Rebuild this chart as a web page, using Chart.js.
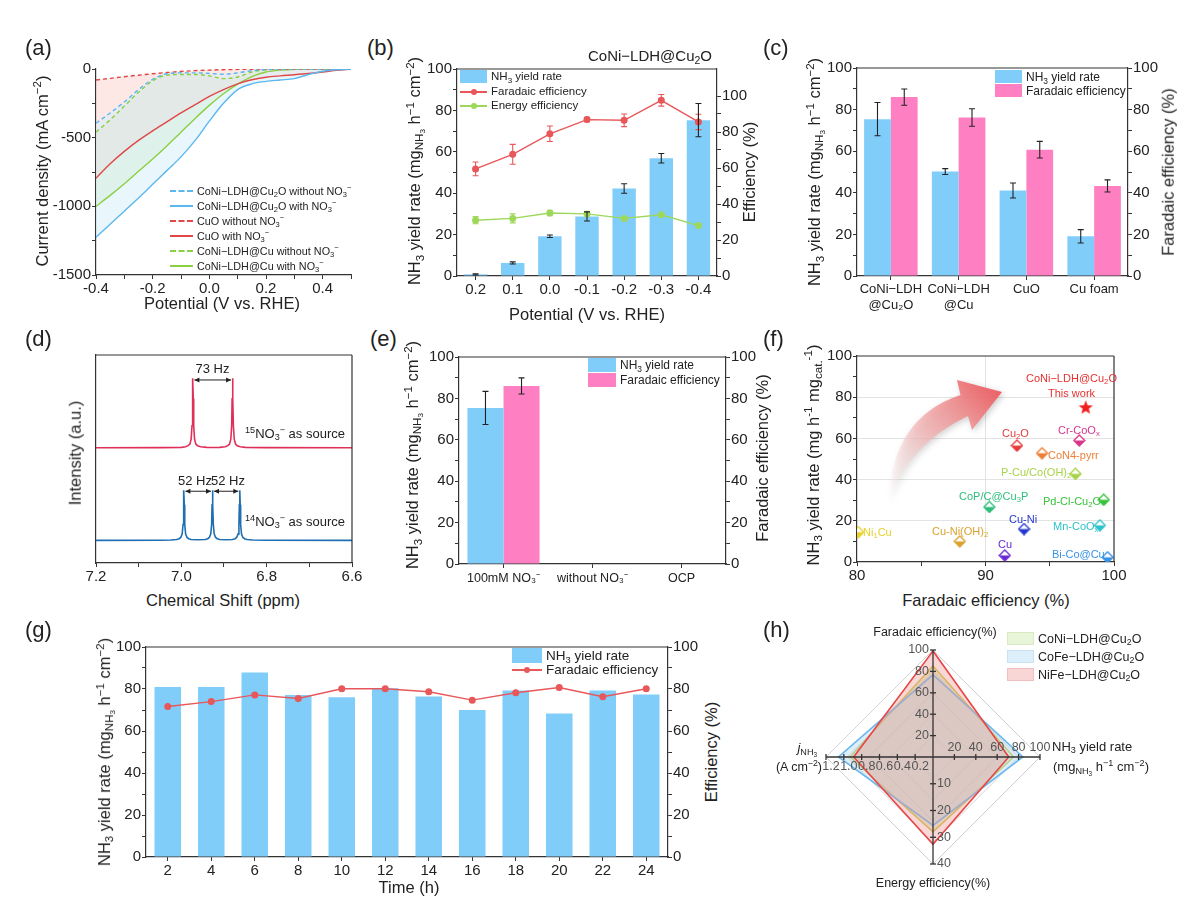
<!DOCTYPE html>
<html lang="en">
<head>
<meta charset="UTF-8">
<title>CoNi-LDH@Cu2O nitrate reduction</title>
<style>
  body { margin: 0; background: #fff; }
  #fig { position: relative; width: 1192px; height: 902px; overflow: hidden; font-family: "Liberation Sans", Arial, sans-serif; color: #222; }
  .box { position: absolute; }
  .t { position: absolute; white-space: nowrap; line-height: 1; z-index: 2; }
  .cc { transform: translate(-50%, -50%); }
  .lc { transform: translateY(-50%); }
  .rc { transform: translate(-100%, -50%); }
  .rot { transform: translate(-50%, -50%) rotate(-90deg); }
  .t sub { font-size: 0.7em; vertical-align: -0.3em; line-height: 0; }
  .t sup { font-size: 0.7em; vertical-align: 0.55em; line-height: 0; }
</style>
<script src="https://cdn.jsdelivr.net/npm/chart.js"></script>
</head>
<body>
<div id="fig"></div>
<script>
// (a) LSV, current density (mA cm-2) vs potential (V vs RHE)
const lsvPotential = [-0.4, -0.35, -0.3, -0.25, -0.2, -0.15, -0.1, -0.05, 0, 0.05, 0.1, 0.15, 0.2, 0.25, 0.3, 0.35, 0.4, 0.45, 0.5];
const lsvCu2OWithout = [-395, -320, -240, -150, -75, -35, -28, -28, -32, -38, -28, -12, -4, -1, 0, 0, 0, 0, 0];
const lsvCu2OWith = [-1225, -1130, -1035, -940, -840, -740, -640, -520, -380, -250, -150, -108, -90, -80, -70, -40, -16, -5, 0];
const lsvCuOWithout = [-80, -68, -56, -45, -35, -26, -18, -12, -8, -5, -3, -2, -1, -1, 0, 0, 0, 0, 0];
const lsvCuOWith = [-795, -690, -600, -520, -450, -385, -320, -260, -200, -150, -108, -78, -60, -50, -42, -33, -22, -10, 0];
const lsvCuWithout = [-460, -370, -270, -170, -85, -45, -40, -40, -50, -70, -58, -22, -6, -2, 0, 0, 0, 0, 0];
const lsvCuWith = [-1000, -920, -835, -745, -655, -560, -460, -360, -265, -180, -110, -55, -22, -8, -3, -1, 0, 0, 0];

// (b) potential series of CoNi-LDH@Cu2O
const bPotential = ['0.2', '0.1', '0.0', '-0.1', '-0.2', '-0.3', '-0.4'];
const bYield = [0.8, 6.3, 19.2, 28.8, 42.3, 56.9, 75.3];
const bYieldErr = [0.3, 0.5, 0.6, 2.2, 2.3, 2.3, 8.0];
const bFE = [59.5, 67.6, 79, 86.9, 86.5, 97.6, 85.6];
const bFEErr = [3.8, 5.5, 4.3, 1.2, 3.5, 3.2, 4.3];
const bEE = [31, 32, 35, 34.5, 32, 34, 28];
const bEEErr = [2, 2.5, 1.5, 0.8, 0, 0, 0];

// (c) catalyst comparison
const cCatalysts = [['CoNi−LDH', '@Cu₂O'], ['CoNi−LDH', '@Cu'], 'CuO', 'Cu foam'];
const cYield = [75.4, 50.2, 41.1, 19.1];
const cYieldErr = [8.0, 1.4, 3.6, 3.2];
const cFE = [86, 76.2, 60.7, 43.3];
const cFEErr = [3.9, 4.2, 4.0, 2.9];

// (d) 1H NMR spectra
const dRedPpm = [7.2, 7.05, 7.0, 6.99, 6.984, 6.98, 6.977, 6.975, 6.974, 6.973, 6.972, 6.971, 6.969, 6.966, 6.962, 6.955, 6.94, 6.926, 6.91, 6.897, 6.891, 6.887, 6.884, 6.882, 6.881, 6.88, 6.879, 6.878, 6.876, 6.873, 6.869, 6.862, 6.85, 6.8, 6.6];
const dRedInt = [5.54, 5.545, 5.56, 5.59, 5.64, 5.72, 5.95, 6.6, 7.9, 8.88, 7.9, 6.6, 5.95, 5.72, 5.64, 5.59, 5.56, 5.555, 5.56, 5.59, 5.64, 5.72, 5.95, 6.6, 7.9, 8.88, 7.9, 6.6, 5.95, 5.72, 5.64, 5.59, 5.56, 5.545, 5.54];
const dBluePpm = [7.2, 7.05, 7.024, 7.011, 7.005, 7.001, 6.998, 6.996, 6.995, 6.994, 6.993, 6.992, 6.99, 6.987, 6.983, 6.977, 6.962, 6.944, 6.938, 6.934, 6.931, 6.929, 6.928, 6.927, 6.926, 6.925, 6.923, 6.92, 6.916, 6.91, 6.895, 6.88, 6.874, 6.87, 6.867, 6.865, 6.864, 6.863, 6.862, 6.861, 6.859, 6.856, 6.852, 6.846, 6.833, 6.8, 6.6];
const dBlueInt = [1.09, 1.095, 1.105, 1.13, 1.17, 1.24, 1.4, 1.85, 2.8, 3.5, 2.8, 1.85, 1.4, 1.24, 1.17, 1.13, 1.115, 1.13, 1.17, 1.24, 1.4, 1.85, 2.8, 3.5, 2.8, 1.85, 1.4, 1.24, 1.17, 1.13, 1.115, 1.13, 1.17, 1.24, 1.4, 1.85, 2.8, 3.5, 2.8, 1.85, 1.4, 1.24, 1.17, 1.13, 1.105, 1.095, 1.09];

// (e) control experiments
const eConditions = ['100mM NO₃⁻', 'without NO₃⁻', 'OCP'];
const eYield = [75.4, 0, 0];
const eYieldErr = [8.0, 0, 0];
const eFE = [86, 0, 0];
const eFEErr = [3.9, 0, 0];

// (f) literature comparison
const fNames = ['Cr-CoO<sub>x</sub>', 'Cu<sub>2</sub>O', 'CoN4-pyrr', 'P-Cu/Co(OH)<sub>2</sub>', 'Pd-Cl-Cu<sub>2</sub>O', 'CoP/C@Cu<sub>3</sub>P', 'Mn-CoO<sub>x</sub>', 'Cu-Ni', 'Ni<sub>1</sub>Cu', 'Cu-Ni(OH)<sub>2</sub>', 'Cu', 'Bi-Co@Cu'];
const fFE = [97.3, 92.45, 94.4, 97.0, 99.2, 90.3, 98.9, 93.0, 80.1, 88.0, 91.5, 99.5];
const fYield = [59, 56.5, 52.8, 42.8, 30.2, 26.7, 17.8, 16, 14.5, 10, 3.2, 2.3];
const fColors = ['#D9358C', '#E53B3B', '#EC7F35', '#A9D34A', '#37C23A', '#2EBE7A', '#2CC3C9', '#2638D0', '#E6D22A', '#D9A32E', '#6A2BD3', '#3892E6'];
const fThisFE = [97.8];
const fThisYield = [75.1];

// (g) 24 h stability
const gTime = ['2', '4', '6', '8', '10', '12', '14', '16', '18', '20', '22', '24'];
const gYield = [81, 81, 87.9, 77.2, 76.1, 80.4, 76.4, 70, 79.3, 68.3, 79.3, 77.4];
const gFE = [71.7, 74, 77.2, 75.5, 80.1, 80.1, 78.7, 74.7, 78.2, 80.7, 76.3, 80.1];

// (h) radar: FE (%), NH3 yield, EE (%), j (A cm-2)
const hAxisMax = [100, 100, 40, 1.2];
const hAxisTicks = [[20, 40, 60, 80, 100], [20, 40, 60, 80, 100], [10, 20, 30, 40], [0.2, 0.4, 0.6, 0.8, 1.0, 1.2]];
const hCoNi = [85, 75.4, 28, 0.93];
const hCoFe = [77, 84, 25.6, 1.06];
const hNiFe = [99, 70.8, 32.6, 0.89];

const FONT = '"Liberation Sans", Arial, sans-serif';
const AX = '#333';
const BLUE = '#80CDFA', PINK = '#FF80C2', RED = '#E8575A', GREEN = '#9ED85A';
Chart.defaults.font.family = FONT;
Chart.defaults.color = '#222';
Chart.defaults.animation = false;
Chart.defaults.plugins.legend.display = false;
Chart.defaults.plugins.tooltip.enabled = false;

const fig = document.getElementById('fig');

function panel(l, t, r, b, m) {
    const div = document.createElement('div');
    div.className = 'box';
    div.style.left = (l - m.L) + 'px';
    div.style.top = (t - m.T) + 'px';
    div.style.width = (r - l + m.L + m.R) + 'px';
    div.style.height = (b - t + m.T + m.B) + 'px';
    const cv = document.createElement('canvas');
    div.appendChild(cv);
    fig.appendChild(div);
    return cv;
}

function txt(x, y, html, size, cls, extra) {
    const d = document.createElement('div');
    d.className = 't ' + (cls || 'cc');
    d.style.left = x + 'px';
    d.style.top = y + 'px';
    d.style.fontSize = size + 'px';
    if (extra) d.style.cssText += extra;
    d.innerHTML = html;
    fig.appendChild(d);
}

function legendLine(x, y, w, color, dashed, dot, html, size) {
    const s = document.createElement('div');
    s.className = 't';
    s.style.cssText += `left:${x}px;top:${y - 1}px;width:${w}px;height:0;border-top:2px ${dashed ? 'dashed' : 'solid'} ${color};`;
    fig.appendChild(s);
    if (dot) {
        const c = document.createElement('div');
        c.className = 't';
        c.style.cssText += `left:${x + w / 2 - 3}px;top:${y - 3}px;width:6px;height:6px;border-radius:50%;background:${color};`;
        fig.appendChild(c);
    }
    txt(x + w + 4, y, html, size, 'lc');
}

function legendBox(x, y, w, h, color, html, size, border) {
    const s = document.createElement('div');
    s.className = 't';
    s.style.cssText += `left:${x}px;top:${y}px;width:${w}px;height:${h}px;background:${color};` + (border ? `box-sizing:border-box;border:1px solid ${border};` : '');
    fig.appendChild(s);
    txt(x + w + 4, y + h / 2, html, size, 'lc');
}

const every = (m, f = v => String(v)) => v => {
    const r = v / m;
    return Math.abs(r - Math.round(r)) < 1e-6 ? f(v) : '';
};

function axis(pos, size, o = {}) {
    const horiz = pos === 'bottom' || pos === 'top';
    return Object.assign({}, o, {
        position: pos,
        afterFit: s => { if (horiz) s.height = size; else s.width = size; },
        border: Object.assign({ color: AX, width: 1.2 }, o.border),
        grid: Object.assign({ drawOnChartArea: false, color: AX, tickColor: AX, tickLength: 4, lineWidth: 1 }, o.grid),
        ticks: Object.assign({ color: '#222', font: { size: 15 }, padding: 1, maxRotation: 0, minRotation: 0, autoSkip: false }, o.ticks)
    });
}

// box lines on the sides that have no axis
const frame = {
    id: 'frame',
    afterDraw(chart, args, o) {
        const { ctx, chartArea: a } = chart;
        ctx.save();
        ctx.strokeStyle = AX;
        ctx.lineWidth = 1.2;
        ctx.beginPath();
        if (o.top) { ctx.moveTo(a.left, a.top); ctx.lineTo(a.right, a.top); }
        if (o.right) { ctx.moveTo(a.right, a.top); ctx.lineTo(a.right, a.bottom); }
        ctx.stroke();
        ctx.restore();
    }
};

// error bars from dataset.errs
const errBars = {
    id: 'errBars',
    afterDatasetsDraw(chart) {
        const ctx = chart.ctx;
        chart.data.datasets.forEach((ds, i) => {
            if (!ds.errs) return;
            const meta = chart.getDatasetMeta(i);
            const ys = chart.scales[meta.yAxisID];
            ctx.save();
            ctx.strokeStyle = ds.errColor || '#222';
            ctx.lineWidth = 1.1;
            meta.data.forEach((el, j) => {
                const e = ds.errs[j];
                if (!e) return;
                const v = ds.data[j];
                const y1 = ys.getPixelForValue(v + e), y2 = ys.getPixelForValue(v - e);
                ctx.beginPath();
                ctx.moveTo(el.x, y1); ctx.lineTo(el.x, y2);
                ctx.moveTo(el.x - 3, y1); ctx.lineTo(el.x + 3, y1);
                ctx.moveTo(el.x - 3, y2); ctx.lineTo(el.x + 3, y2);
                ctx.stroke();
            });
            ctx.restore();
        });
    }
};

const base = { responsive: true, maintainAspectRatio: false };

// ---------------- (a) ----------------
{
    const m = { L: 50, T: 12, R: 14, B: 26 };
    const cv = panel(96, 69, 351, 275, m);
    const pts = ys => lsvPotential.map((x, i) => ({ x, y: ys[i] }));
    const line = (ys, color, dashed, fill) => ({
        data: pts(ys), borderColor: color, borderWidth: 1.4, borderDash: dashed ? [4, 3] : [],
        pointRadius: 0, tension: 0.35, cubicInterpolationMode: 'monotone', fill: fill || false
    });
    new Chart(cv, {
        type: 'line',
        data: {
            datasets: [
                line(lsvCu2OWithout, '#5BB8EE', true),
                Object.assign(line(lsvCu2OWith, '#5BB8EE', false, { target: 0 }), { backgroundColor: 'rgba(215,238,250,0.55)' }),
                line(lsvCuOWithout, '#E04848', true),
                Object.assign(line(lsvCuOWith, '#E04848', false, { target: 2 }), { backgroundColor: 'rgba(250,205,200,0.45)' }),
                line(lsvCuWithout, '#8AD040', true),
                Object.assign(line(lsvCuWith, '#8AD040', false, { target: 4 }), { backgroundColor: 'rgba(190,225,150,0.35)' })
            ]
        },
        options: Object.assign({}, base, {
            layout: { padding: { top: m.T, right: m.R, left: 0, bottom: 0 } },
            plugins: { filler: { drawTime: 'beforeDatasetsDraw' } },
            scales: {
                x: axis('bottom', m.B, { type: 'linear', min: -0.4, max: 0.5, ticks: { stepSize: 0.1, callback: every(0.2, v => (Math.abs(v) < 1e-9 ? 0 : v).toFixed(1)) } }),
                y: axis('left', m.L, { min: -1500, max: 0, ticks: { stepSize: 250, callback: every(500, v => String(Math.round(v))) } })
            }
        })
    });
    txt(25, 48, '(a)', 22, 'lc');
    txt(42, 171, 'Current density (mA cm<sup>−2</sup>)', 16.5, 'rot');
    txt(222, 303, 'Potential (V vs. RHE)', 16.5);
    const rows = [
        ['#5BB8EE', true, 'CoNi−LDH@Cu<sub>2</sub>O without NO<sub>3</sub><sup>−</sup>'],
        ['#5BB8EE', false, 'CoNi−LDH@Cu<sub>2</sub>O with NO<sub>3</sub><sup>−</sup>'],
        ['#E04848', true, 'CuO without NO<sub>3</sub><sup>−</sup>'],
        ['#E04848', false, 'CuO with NO<sub>3</sub><sup>−</sup>'],
        ['#8AD040', true, 'CoNi−LDH@Cu without NO<sub>3</sub><sup>−</sup>'],
        ['#8AD040', false, 'CoNi−LDH@Cu with NO<sub>3</sub><sup>−</sup>']
    ];
    rows.forEach((r, i) => legendLine(170, 191 + i * 15, 23, r[0], r[1], false, r[2], 10.8));
}

// ---------------- (b) ----------------
{
    const m = { L: 38, T: 10, R: 32, B: 28 };
    const cv = panel(457, 69, 717, 276, m);
    new Chart(cv, {
        type: 'bar',
        data: {
            labels: bPotential,
            datasets: [
                { type: 'line', data: bFE, yAxisID: 'y1', borderColor: RED, backgroundColor: RED, borderWidth: 1.4, pointRadius: 2.8, errs: bFEErr, errColor: RED, order: 1 },
                { type: 'line', data: bEE, yAxisID: 'y1', borderColor: GREEN, backgroundColor: GREEN, borderWidth: 1.4, pointRadius: 2.8, errs: bEEErr, errColor: GREEN, order: 2 },
                { type: 'bar', data: bYield, yAxisID: 'y', backgroundColor: BLUE, barPercentage: 0.63, categoryPercentage: 1, errs: bYieldErr, order: 3 }
            ]
        },
        options: Object.assign({}, base, {
            layout: { padding: { top: m.T, right: 0, left: 0, bottom: 0 } },
            plugins: { frame: { top: true } },
            scales: {
                x: axis('bottom', m.B, { grid: { offset: false } }),
                y: axis('left', m.L, { min: 0, max: 100, ticks: { stepSize: 10, callback: every(20) } }),
                y1: axis('right', m.R, {
                    min: 0, max: 115, ticks: { stepSize: 10, callback: every(20) },
                    afterBuildTicks: s => { s.ticks = s.ticks.filter(t => t.value % 10 === 0); }
                })
            }
        }),
        plugins: [frame, errBars]
    });
    txt(367, 48, '(b)', 22, 'lc');
    txt(650, 55, 'CoNi−LDH@Cu<sub>2</sub>O', 15);
    txt(415, 171, 'NH<sub>3</sub> yield rate (mg<sub>NH<sub>3</sub></sub> h<sup>−1</sup> cm<sup>−2</sup>)', 16.5, 'rot');
    txt(749, 172, 'Efficiency (%)', 16.5, 'rot');
    txt(587, 314, 'Potential (V vs. RHE)', 16.5);
    legendBox(460, 70, 27, 13, BLUE, 'NH<sub>3</sub> yield rate', 11.5);
    legendLine(460, 91.5, 27, RED, false, true, 'Faradaic efficiency', 11.5);
    legendLine(460, 106, 27, GREEN, false, true, 'Energy efficiency', 11.5);
}

// ---------------- (c) ----------------
{
    const m = { L: 38, T: 10, R: 32, B: 45 };
    const cv = panel(857, 68, 1128, 276, m);
    new Chart(cv, {
        type: 'bar',
        data: {
            labels: cCatalysts,
            datasets: [
                { data: cYield, yAxisID: 'y', backgroundColor: BLUE, errs: cYieldErr, barPercentage: 1, categoryPercentage: 0.79 },
                { data: cFE, yAxisID: 'y1', backgroundColor: PINK, errs: cFEErr, barPercentage: 1, categoryPercentage: 0.79 }
            ]
        },
        options: Object.assign({}, base, {
            layout: { padding: { top: m.T, right: 0, left: 0, bottom: 0 } },
            plugins: { frame: { top: true } },
            scales: {
                x: axis('bottom', m.B, { grid: { offset: false }, ticks: { font: { size: 13 }, padding: 2 } }),
                y: axis('left', m.L, { min: 0, max: 100, ticks: { stepSize: 10, callback: every(20) } }),
                y1: axis('right', m.R, { min: 0, max: 100, ticks: { stepSize: 10, callback: every(20) } })
            }
        }),
        plugins: [frame, errBars]
    });
    txt(763, 48, '(c)', 22, 'lc');
    txt(815, 172, 'NH<sub>3</sub> yield rate (mg<sub>NH<sub>3</sub></sub> h<sup>−1</sup> cm<sup>−2</sup>)', 16.5, 'rot');
    txt(1168, 172, 'Faradaic efficiency (%)', 16.5, 'rot');
    legendBox(995, 70, 27, 13, BLUE, 'NH<sub>3</sub> yield rate', 12);
    legendBox(995, 84, 27, 13, PINK, 'Faradaic efficiency', 12);
}

// ---------------- (d) ----------------
{
    const m = { L: 20, T: 8, R: 14, B: 26 };
    const cv = panel(96, 355, 352, 563, m);
    const arrows = {
        id: 'arrows',
        afterDatasetsDraw(chart) {
            const { ctx, scales: { x, y } } = chart;
            const spans = [[6.973, 6.880, 8.8], [6.994, 6.927, 3.45], [6.927, 6.863, 3.45]];
            ctx.save();
            ctx.strokeStyle = '#222';
            ctx.fillStyle = '#222';
            ctx.lineWidth = 1;
            spans.forEach(([a, b, v]) => {
                const x1 = x.getPixelForValue(a) + 1.5, x2 = x.getPixelForValue(b) - 1.5, py = y.getPixelForValue(v);
                ctx.beginPath(); ctx.moveTo(x1, py); ctx.lineTo(x2, py); ctx.stroke();
                [[x1, 1], [x2, -1]].forEach(([px, d]) => {
                    ctx.beginPath(); ctx.moveTo(px, py); ctx.lineTo(px + 5 * d, py - 2.5); ctx.lineTo(px + 5 * d, py + 2.5); ctx.closePath(); ctx.fill();
                });
            });
            ctx.restore();
        }
    };
    const spec = (xs, ys, color) => ({
        data: xs.map((x, i) => ({ x, y: ys[i] })), borderColor: color, borderWidth: 1.6, pointRadius: 0, tension: 0
    });
    new Chart(cv, {
        type: 'line',
        data: { datasets: [spec(dRedPpm, dRedInt, '#E0305A'), spec(dBluePpm, dBlueInt, '#1F6FB2')] },
        options: Object.assign({}, base, {
            layout: { padding: { top: m.T, right: m.R, left: 0, bottom: 0 } },
            plugins: { frame: { top: true, right: true } },
            scales: {
                x: axis('bottom', m.B, { type: 'linear', min: 6.6, max: 7.2, reverse: true, ticks: { stepSize: 0.1, callback: every(0.2, v => v.toFixed(1)) } }),
                y: axis('left', m.L, { min: 0, max: 10, ticks: { display: false }, grid: { display: false } })
            }
        }),
        plugins: [frame, arrows]
    });
    txt(25, 339, '(d)', 22, 'lc');
    txt(75, 453, 'Intensity (a.u.)', 16.5, 'rot');
    txt(223, 600, 'Chemical Shift (ppm)', 16.5);
    txt(212.5, 368, '73 Hz', 13);
    txt(195, 480, '52 Hz', 13);
    txt(228, 480, '52 Hz', 13);
    txt(245, 433, '<sup>15</sup>NO<sub>3</sub><sup>−</sup> as source', 13, 'lc');
    txt(245, 521, '<sup>14</sup>NO<sub>3</sub><sup>−</sup> as source', 13, 'lc');
}

// ---------------- (e) ----------------
{
    const m = { L: 38, T: 10, R: 32, B: 28 };
    const cv = panel(459, 357, 726, 564, m);
    new Chart(cv, {
        type: 'bar',
        data: {
            labels: eConditions,
            datasets: [
                { data: eYield, yAxisID: 'y', backgroundColor: BLUE, errs: eYieldErr, barPercentage: 1, categoryPercentage: 0.81 },
                { data: eFE, yAxisID: 'y1', backgroundColor: PINK, errs: eFEErr, barPercentage: 1, categoryPercentage: 0.81 }
            ]
        },
        options: Object.assign({}, base, {
            layout: { padding: { top: m.T, right: 0, left: 0, bottom: 0 } },
            plugins: { frame: { top: true } },
            scales: {
                x: axis('bottom', m.B, { grid: { offset: false }, ticks: { font: { size: 12.5 }, padding: 3 } }),
                y: axis('left', m.L, { min: 0, max: 100, ticks: { stepSize: 10, callback: every(20) } }),
                y1: axis('right', m.R, { min: 0, max: 100, ticks: { stepSize: 10, callback: every(20) } })
            }
        }),
        plugins: [frame, errBars]
    });
    txt(370, 339, '(e)', 22, 'lc');
    txt(413, 455, 'NH<sub>3</sub> yield rate (mg<sub>NH<sub>3</sub></sub> h<sup>−1</sup> cm<sup>−2</sup>)', 16.5, 'rot');
    txt(762, 458, 'Faradaic efficiency (%)', 16.5, 'rot');
    legendBox(588, 358, 28, 14, BLUE, 'NH<sub>3</sub> yield rate', 12);
    legendBox(588, 373, 28, 14, PINK, 'Faradaic efficiency', 12);
}

// ---------------- (f) ----------------
{
    const m = { L: 38, T: 10, R: 14, B: 26 };
    const cv = panel(857, 356, 1114, 562, m);
    const diamond = color => {
        const c = document.createElement('canvas');
        c.width = 13; c.height = 13;
        const g = c.getContext('2d');
        g.beginPath(); g.moveTo(6.5, 1); g.lineTo(12, 6.5); g.lineTo(6.5, 12); g.lineTo(1, 6.5); g.closePath();
        g.fillStyle = '#fff'; g.fill();
        g.beginPath(); g.moveTo(1, 6.5); g.lineTo(12, 6.5); g.lineTo(6.5, 12); g.closePath();
        g.fillStyle = color; g.fill();
        g.beginPath(); g.moveTo(6.5, 1); g.lineTo(12, 6.5); g.lineTo(6.5, 12); g.lineTo(1, 6.5); g.closePath();
        g.strokeStyle = color; g.lineWidth = 1.3; g.stroke();
        return c;
    };
    const star = (() => {
        const c = document.createElement('canvas');
        c.width = 16; c.height = 16;
        const g = c.getContext('2d');
        g.beginPath();
        for (let k = 0; k < 10; k++) {
            const r = k % 2 ? 3.2 : 7.5, a = -Math.PI / 2 + k * Math.PI / 5;
            g.lineTo(8 + r * Math.cos(a), 8.5 + r * Math.sin(a));
        }
        g.closePath(); g.fillStyle = '#F0201E'; g.fill();
        return c;
    })();
    const bigArrow = {
        id: 'bigArrow',
        beforeDatasetsDraw(chart) {
            const { ctx, chartArea: a } = chart;
            const ox = a.left - 857, oy = a.top - 356;
            const P = (x, y) => [x + ox, y + oy];
            ctx.save();
            const g = ctx.createLinearGradient(...P(890, 503), ...P(1000, 392));
            g.addColorStop(0, 'rgba(255,255,255,0.2)');
            g.addColorStop(0.45, 'rgba(246,185,185,0.75)');
            g.addColorStop(1, 'rgba(236,92,96,0.95)');
            ctx.shadowColor = 'rgba(0,0,0,0.22)';
            ctx.shadowBlur = 6;
            ctx.shadowOffsetX = 2;
            ctx.shadowOffsetY = 2;
            ctx.beginPath();
            ctx.moveTo(...P(1002, 392));
            ctx.lineTo(...P(957, 380));
            ctx.lineTo(...P(960.5, 395));
            ctx.quadraticCurveTo(...P(891, 418), ...P(889, 503));
            ctx.quadraticCurveTo(...P(908, 444), ...P(968, 416));
            ctx.lineTo(...P(972, 430));
            ctx.closePath();
            ctx.fillStyle = g;
            ctx.fill();
            ctx.restore();
        }
    };
    new Chart(cv, {
        type: 'scatter',
        data: {
            datasets: [
                { data: fFE.map((x, i) => ({ x, y: fYield[i] })), pointStyle: fColors.map(diamond), pointRadius: 6 },
                { data: fThisFE.map((x, i) => ({ x, y: fThisYield[i] })), pointStyle: star, pointRadius: 8 }
            ]
        },
        options: Object.assign({}, base, {
            layout: { padding: { top: m.T, right: m.R, left: 0, bottom: 0 } },
            plugins: { frame: { top: true, right: true } },
            scales: {
                x: axis('bottom', m.B, {
                    type: 'linear', min: 80, max: 100, ticks: { stepSize: 5, callback: every(10) },
                    grid: { drawOnChartArea: true, color: c => (c.tick && c.tick.value === 90 ? '#e3e3e3' : 'rgba(0,0,0,0)') }
                }),
                y: axis('left', m.L, {
                    min: 0, max: 100, ticks: { stepSize: 10, callback: every(20) },
                    grid: { drawOnChartArea: true, color: c => (c.tick && c.tick.value % 20 === 0 && c.tick.value > 0 && c.tick.value < 100 ? '#e3e3e3' : 'rgba(0,0,0,0)') }
                })
            }
        }),
        plugins: [frame, bigArrow]
    });
    txt(763, 339, '(f)', 22, 'lc');
    txt(813, 455, 'NH<sub>3</sub> yield rate (mg h<sup>-1</sup> mg<sub>cat.</sub><sup>-1</sup>)', 16.5, 'rot');
    txt(986, 600, 'Faradaic efficiency (%)', 16.5);
    txt(1026, 378, 'CoNi−LDH@Cu<sub>2</sub>O', 11, 'lc', 'color:#E83030;');
    txt(1048, 393, 'This work', 11, 'lc', 'color:#E83030;');
    const at = [[1058, 430], [1002, 433], [1048, 455], [1001, 472], [1043, 501], [959, 496], [1053, 526], [1009, 519], [863, 532], [932, 531], [998, 544], [1052, 554]];
    fNames.forEach((n, i) => txt(at[i][0], at[i][1], n, 11, 'lc', 'color:' + fColors[i] + ';'));
}

// ---------------- (g) ----------------
{
    const m = { L: 38, T: 10, R: 32, B: 28 };
    const cv = panel(146, 647, 668, 857, m);
    new Chart(cv, {
        type: 'bar',
        data: {
            labels: gTime,
            datasets: [
                { type: 'line', data: gFE, yAxisID: 'y1', borderColor: RED, backgroundColor: RED, borderWidth: 1.4, pointRadius: 2.8, order: 1 },
                { type: 'bar', data: gYield, yAxisID: 'y', backgroundColor: BLUE, barPercentage: 0.61, categoryPercentage: 1, order: 2 }
            ]
        },
        options: Object.assign({}, base, {
            layout: { padding: { top: m.T, right: 0, left: 0, bottom: 0 } },
            plugins: { frame: { top: true } },
            scales: {
                x: axis('bottom', m.B, { grid: { offset: false } }),
                y: axis('left', m.L, { min: 0, max: 100, ticks: { stepSize: 10, callback: every(20) } }),
                y1: axis('right', m.R, { min: 0, max: 100, ticks: { stepSize: 10, callback: every(20) } })
            }
        }),
        plugins: [frame]
    });
    txt(25, 630, '(g)', 22, 'lc');
    txt(105, 752, 'NH<sub>3</sub> yield rate (mg<sub>NH<sub>3</sub></sub> h<sup>−1</sup> cm<sup>−2</sup>)', 16.5, 'rot');
    txt(711, 752, 'Efficiency (%)', 16.5, 'rot');
    txt(409, 887, 'Time (h)', 16.5);
    legendBox(512, 648, 30, 15, BLUE, 'NH<sub>3</sub> yield rate', 13.5);
    legendLine(512, 670, 30, RED, false, true, 'Faradaic efficiency', 13.5);
}

// ---------------- (h) ----------------
{
    const m = { L: 56, T: 30, R: 120, B: 26 };
    const cv = panel(826, 650, 1040, 864, m);
    const norm = vals => vals.map((v, i) => v / hAxisMax[i] * 100);
    const radarAxes = {
        id: 'radarAxes',
        afterDatasetsDraw(chart) {
            const r = chart.scales.r, ctx = chart.ctx;
            ctx.save();
            ctx.strokeStyle = '#333';
            ctx.lineWidth = 1.3;
            ctx.fillStyle = '#555';
            ctx.font = '12.5px ' + FONT;
            hAxisTicks.forEach((list, i) => {
                const end = r.getPointPositionForValue(i, 100);
                ctx.beginPath(); ctx.moveTo(r.xCenter, r.yCenter); ctx.lineTo(end.x, end.y); ctx.stroke();
                list.forEach(v => {
                    const p = r.getPointPositionForValue(i, v / hAxisMax[i] * 100);
                    const lab = i === 3 ? v.toFixed(1) : String(v);
                    ctx.beginPath();
                    if (i % 2 === 0) { ctx.moveTo(p.x - 3, p.y); ctx.lineTo(p.x + 3, p.y); }
                    else { ctx.moveTo(p.x, p.y - 3); ctx.lineTo(p.x, p.y + 3); }
                    ctx.stroke();
                    if (i === 0) { ctx.textAlign = 'right'; ctx.textBaseline = 'middle'; ctx.fillText(lab, p.x - 4, p.y); }
                    if (i === 1) { ctx.textAlign = 'center'; ctx.textBaseline = 'bottom'; ctx.fillText(lab, p.x, p.y - 3); }
                    if (i === 2) { ctx.textAlign = 'left'; ctx.textBaseline = 'middle'; ctx.fillText(lab, p.x + 4, p.y); }
                    if (i === 3) { ctx.textAlign = 'center'; ctx.textBaseline = 'top'; ctx.fillText(lab, p.x + 5, p.y + 3); }
                });
            });
            ctx.restore();
        }
    };
    new Chart(cv, {
        type: 'radar',
        data: {
            labels: ['Faradaic efficiency(%)', 'NH3 yield rate', 'Energy efficiency(%)', 'jNH3'],
            datasets: [
                { data: norm(hNiFe), borderColor: '#E84545', backgroundColor: 'rgba(240,150,150,0.38)', fill: true, order: 0 },
                { data: norm(hCoFe), borderColor: '#6AB8EE', backgroundColor: 'rgba(175,215,240,0.42)', fill: true, order: 1 },
                { data: norm(hCoNi), borderColor: '#C9C84A', backgroundColor: 'rgba(200,228,150,0.45)', fill: true, order: 2 }
            ]
        },
        options: Object.assign({}, base, {
            layout: { padding: { top: m.T, right: m.R, left: m.L, bottom: m.B } },
            elements: { point: { radius: 0 }, line: { borderWidth: 1.6, tension: 0 } },
            scales: {
                r: {
                    min: 0, max: 100,
                    ticks: { display: false, stepSize: 20 },
                    grid: { color: '#d2d2d2', lineWidth: 1 },
                    angleLines: { display: false },
                    pointLabels: { display: false }
                }
            }
        }),
        plugins: [radarAxes]
    });
    txt(763, 630, '(h)', 22, 'lc');
    txt(935, 632, 'Faradaic efficiency(%)', 12.5);
    txt(933, 883, 'Energy efficiency(%)', 12.5);
    txt(1052, 746, 'NH<sub>3</sub> yield rate', 13, 'lc');
    txt(1053, 767, '(mg<sub>NH<sub>3</sub></sub> h<sup>−1</sup> cm<sup>−2</sup>)', 13, 'lc');
    txt(817, 748, '<i>j</i><sub>NH<sub>3</sub></sub>', 13, 'rc');
    txt(822, 767, '(A cm<sup>−2</sup>)', 12.5, 'rc');
    legendBox(1007, 632, 27, 13, '#E9F5D8', 'CoNi−LDH@Cu<sub>2</sub>O', 12.5, '#d8eac0');
    legendBox(1007, 650, 27, 13, '#DDEFFB', 'CoFe−LDH@Cu<sub>2</sub>O', 12.5, '#c8e2f4');
    legendBox(1007, 668, 27, 13, '#F9D6D6', 'NiFe−LDH@Cu<sub>2</sub>O', 12.5, '#f0c0c0');
}
</script>
</body>
</html>
